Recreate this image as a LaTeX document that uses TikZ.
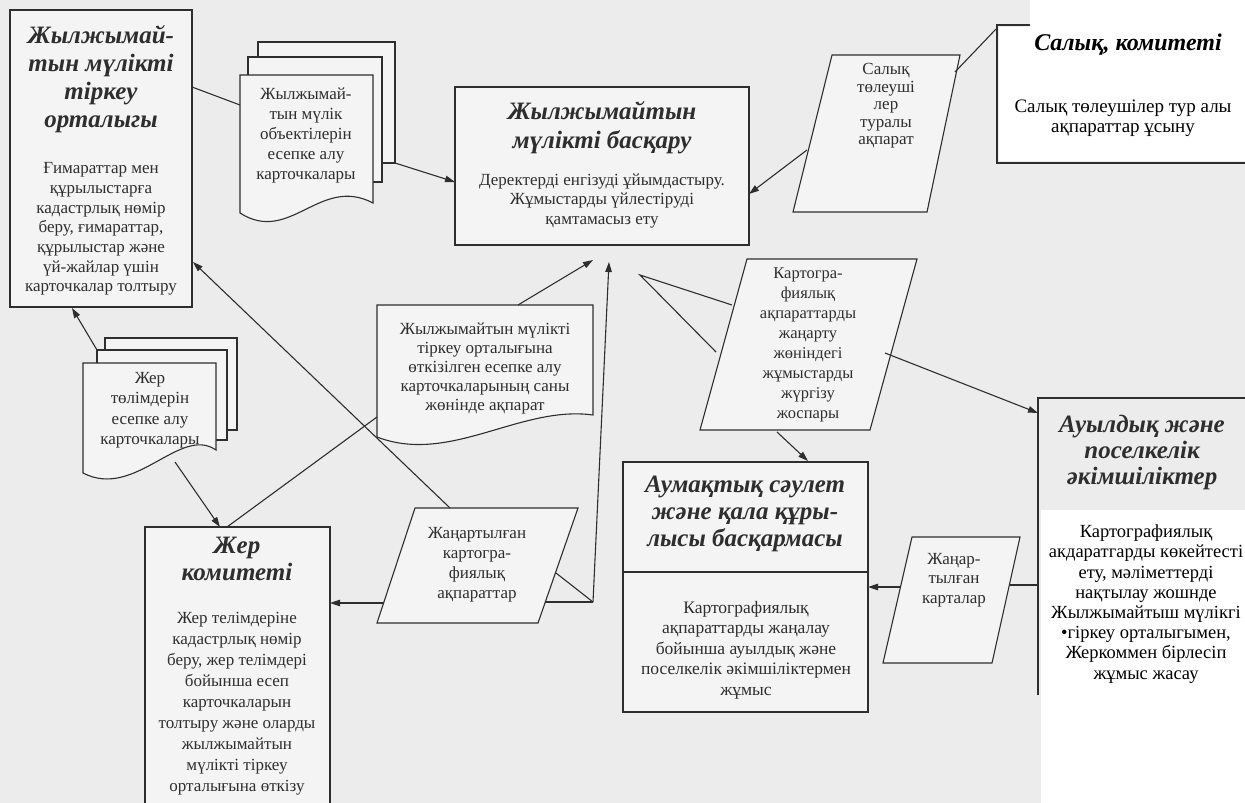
\documentclass[tikz,border=0pt]{standalone}
\usepackage{fontspec}
\setmainfont{Liberation Serif}
\usetikzlibrary{arrows.meta}
\definecolor{scanbg}{HTML}{ECECEC}
\definecolor{boxfill}{HTML}{F4F4F4}
\definecolor{ink}{HTML}{2E2E2E}
\tikzset{
  lin/.style={draw=ink, line width=1.1pt},
  arr/.style={lin, -{Triangle[length=10pt,width=6.5pt]}},
  shp/.style={draw=ink, line width=1.1pt, fill=boxfill},
  ttl/.style={font=\fontsize{25}{28}\selectfont\bfseries\itshape, align=center, text=ink, inner sep=0pt},
  bdy/.style={font=\fontsize{17}{19.7}\selectfont, align=center, text=ink, inner sep=0pt},
  ovt/.style={font=\fontsize{24}{26}\selectfont\bfseries\itshape, align=center, text=black, inner sep=0pt},
  ovb/.style={font=\fontsize{18.5}{20.2}\selectfont, align=center, text=black, inner sep=0pt},
}
\begin{document}
\begin{tikzpicture}[x=1pt,y=-1pt]
\useasboundingbox (0,0) rectangle (1245,803);
\fill[scanbg] (0,0) rectangle (1245,803);
\fill[white] (1030,0) rectangle (1245,161);
\fill[white] (999,27) rectangle (1245,161);
\fill[white] (1041,510) rectangle (1245,803);

% ---------- shapes ----------
% registration centre
\draw[shp] (10,10) rectangle (192,307);
\node[ttl] (regT) at (101,79) {Жылжымай-\\тын мүлікті\\тіркеу\\орталыгы};
\node[bdy] (regB) at (101,229) {Ғимараттар мен\\құрылыстарға\\кадастрлық нөмір\\беру, ғимараттар,\\құрылыстар және\\үй-жайлар үшін\\карточкалар толтыру};

% card stack 1
\draw[shp] (258,42) rectangle (395,163);
\draw[shp] (248,57) rectangle (382,182);
\draw[shp] (240,75) -- (373,75) -- (373,203) .. controls (320,175) and (290,245) .. (240,213) -- cycle;
\node[bdy, font=\fontsize{17}{20}\selectfont] (st1) at (306,135) {Жылжымай-\\тын мүлік\\объектілерін\\есепке алу\\карточкалары};

% management
\draw[shp] (455,87) rectangle (749,245);
\node[ttl, font=\fontsize{25}{29}\selectfont\bfseries\itshape] (mgT) at (602,127.5) {Жылжымайтын\\мүлікті басқару};
\node[bdy, font=\fontsize{17}{19.5}\selectfont] (mgB) at (602,201) {Деректерді енгізуді ұйымдастыру.\\Жұмыстарды үйлестіруді\\қамтамасыз ету};

% tax payers parallelogram
\draw[shp] (832,55) -- (960,55) -- (927,212) -- (793,212) -- cycle;
\node[bdy, font=\fontsize{17}{17.5}\selectfont] (taxP) at (886,106) {Салық\\төлеуші\\лер\\туралы\\ақпарат};

% tax committee (overlay)
\draw[lin] (1030,25) -- (997,25) -- (997,163) -- (1245,163);
\node[ovt] (taxT) at (1128,45) {Салық, комитеті};
\node[ovb, font=\fontsize{19}{20}\selectfont] (taxB) at (1123,118) {Салық төлеушілер тур алы\\ақпараттар ұсыну};

% card stack 2
\draw[shp] (105,338) rectangle (237,430);
\draw[shp] (97,350) rectangle (227,440);
\draw[shp] (83,363) -- (216,363) -- (216,450) .. controls (180,425) and (135,500) .. (83,473) -- cycle;
\node[bdy, font=\fontsize{17}{20.5}\selectfont] (st2) at (150,410) {Жер\\төлімдерін\\есепке алу\\карточкалары};

% document: info to centre
\draw[shp] (377,305) -- (593,305) -- (593,415) .. controls (520,405) and (450,465) .. (377,437) -- cycle;
\node[bdy, font=\fontsize{17}{19}\selectfont] (docI) at (485,368) {Жылжымайтын мүлікті\\тіркеу орталығына\\өткізілген есепке алу\\карточкаларының саны\\жөнінде ақпарат};

% cartography plan
\draw[shp] (747,259) -- (917,259) -- (870,430) -- (700,430) -- cycle;
\node[bdy, font=\fontsize{16.5}{20}\selectfont] (plan) at (808,345) {Картогра-\\фиялық\\ақпараттарды\\жаңарту\\жөніндегі\\жұмыстарды\\жүргізу\\жоспары};

% land committee
\fill[boxfill] (145,527) rectangle (330,803);
\draw[lin] (145,803) -- (145,527) -- (330,527) -- (330,803);
\node[ttl, font=\fontsize{25}{27}\selectfont\bfseries\itshape] (zhT) at (237,558.5) {Жер\\комитеті};
\node[bdy, font=\fontsize{17}{21}\selectfont] (zhB) at (237,704) {Жер телімдеріне\\кадастрлық нөмір\\беру, жер телімдері\\бойынша есеп\\карточкаларын\\толтыру және оларды\\жылжымайтын\\мүлікті тіркеу\\орталығына өткізу};

% updated cartographic info
\draw[shp] (415,508) -- (578,508) -- (538,623) -- (377,623) -- cycle;
\node[bdy, font=\fontsize{17}{20}\selectfont] (zhan) at (477,565) {Жаңартылған\\картогра-\\фиялық\\ақпараттар};

% architecture department
\draw[shp] (623,462) rectangle (868,712);
\draw[lin] (623,572) -- (868,572);
\node[ttl, font=\fontsize{25}{27}\selectfont\bfseries\itshape] (auT) at (745,514) {Аумақтық сәулет\\және қала құры-\\лысы басқармасы};
\node[bdy, font=\fontsize{17.5}{20.5}\selectfont] (auB) at (746,650) {Картографиялық\\ақпараттарды жаңалау\\бойынша ауылдық және\\поселкелік әкімшіліктермен\\жұмыс};

% updated maps
\draw[shp] (912,537) -- (1020,537) -- (992,663) -- (883,663) -- cycle;
\node[bdy, font=\fontsize{17}{19.5}\selectfont] (kart) at (954,580) {Жаңар-\\тылған\\карталар};

% rural administrations
\draw[lin] (1038,695) -- (1038,398) -- (1245,398);
\node[ttl, font=\fontsize{25}{26}\selectfont\bfseries\itshape] (ayT) at (1142,452) {Ауылдық және\\поселкелік\\әкімшіліктер};
\node[ovb] (ayB) at (1146,604) {Картографиялық\\акдаратгарды көкейтесті\\ету, мәліметтерді\\нақтылау жошнде\\Жылжымайтыш мүлікгі\\•гіркеу орталыгымен,\\Жеркоммен бірлесіп\\жұмыс жасау};

% ---------- connector end points ----------
\coordinate (regR) at (192,87);
\coordinate (regRB) at (193,262);
\coordinate (regBot) at (72,308);
\coordinate (st1L) at (240,105);
\coordinate (st1R) at (395,163);
\coordinate (mgL) at (455,182);
\coordinate (mgR) at (749,194);
\coordinate (mgB1) at (593,260);
\coordinate (mgB2) at (609,262);
\coordinate (taxPL) at (807,150);
\coordinate (taxPR) at (955,72);
\coordinate (taxBL) at (997,28);
\coordinate (docT) at (518,305);
\coordinate (docL) at (377,417);
\coordinate (vBot) at (593,602);
\coordinate (zhanR) at (545,602);
\coordinate (zhanR2) at (556,573);
\coordinate (zhanL) at (384,603);
\coordinate (zhanT) at (450,508);
\coordinate (vTip) at (640,275);
\coordinate (planL1) at (732,305);
\coordinate (planL2) at (716,352);
\coordinate (planB) at (777,432);
\coordinate (planM) at (885,353);
\coordinate (auTop) at (808,461);
\coordinate (auR) at (868,587);
\coordinate (ayL) at (1038,413);
\coordinate (ayL2) at (1038,585);
\coordinate (kartR) at (1010,585);
\coordinate (kartL) at (900,587);
\coordinate (st2T) at (97,350);
\coordinate (st2B) at (175,462);
\coordinate (zhTop) at (220,527);
\coordinate (zhTop2) at (227,527);
\coordinate (zhR) at (330,603);

% ---------- connectors ----------
\draw[lin] (regR) -- (st1L);
\draw[arr] (st1R) -- (mgL);
\draw[arr] (taxPL) -- (mgR);
\draw[lin] (taxPR) -- (taxBL);
\draw[arr] (docT) -- (mgB1);
\draw[arr] (vBot) -- (mgB2);
\draw[lin] (zhanR) -- (vBot);
\draw[lin] (zhanR2) -- (vBot);
\draw[lin] (planL1) -- (vTip) -- (planL2);
\draw[arr] (planB) -- (auTop);
\draw[arr] (planM) -- (ayL);
\draw[lin] (ayL2) -- (kartR);
\draw[arr] (kartL) -- (auR);
\draw[arr] (st2T) -- (regBot);
\draw[arr] (st2B) -- (zhTop);
\draw[lin] (zhTop2) -- (docL);
\draw[arr] (zhanL) -- (zhR);
\draw[arr] (zhanT) -- (regRB);
\end{tikzpicture}
\end{document}
